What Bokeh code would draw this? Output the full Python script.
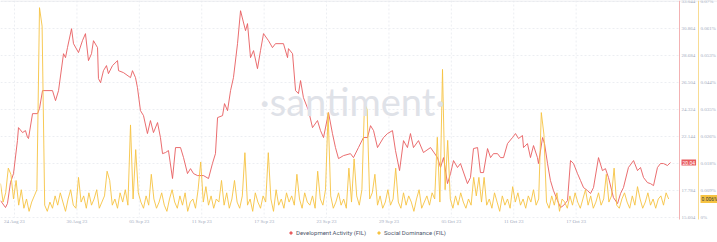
import pandas as pd
from bokeh.plotting import figure
from bokeh.models import Range1d, Legend, LegendItem, Label
from bokeh.embed import file_html
from bokeh.resources import INLINE

# ---------------- data ----------------
START = pd.Timestamp("2023-08-22 15:36")

x_tick_dates = ["2023-08-24", "2023-08-30", "2023-09-05", "2023-09-11", "2023-09-17",
                "2023-09-23", "2023-09-29", "2023-10-05", "2023-10-11", "2023-10-17"]

# Development Activity (FIL): days since START, value
dev_days = [0.00, 0.48, 0.67, 0.96, 1.25, 1.63, 1.73, 2.12, 2.40, 2.60, 2.69, 3.08, 3.56, 3.75,
            4.04, 5.00, 5.29, 5.58, 6.06, 6.25, 6.44, 6.83, 7.02, 7.50, 7.88, 8.17, 8.46, 8.75,
            8.94, 9.33, 9.42, 9.62, 9.90, 10.19, 10.38, 10.77, 11.25, 11.35, 11.83, 12.50, 12.69,
            12.98, 13.17, 13.46, 13.75, 14.13, 14.42, 14.71, 15.10, 15.38, 15.58, 15.87, 16.15,
            16.54, 16.83, 17.31, 17.60, 17.98, 18.27, 18.56, 18.94, 19.52, 20.00, 20.38, 20.67,
            20.87, 21.35, 21.54, 21.83, 22.12, 22.40, 22.79, 23.08, 23.56, 23.75, 24.04, 24.33,
            24.71, 25.00, 25.29, 25.77, 26.15, 26.44, 27.21, 27.60, 27.69, 28.08, 28.37, 28.65,
            28.85, 29.13, 29.62, 30.00, 30.48, 30.77, 31.06, 31.54, 31.92, 32.21, 32.50, 32.98,
            33.65, 33.94, 34.42, 34.90, 35.29, 35.58, 35.87, 36.25, 36.83, 37.21, 37.69, 37.98,
            38.37, 38.75, 39.13, 39.42, 39.71, 40.19, 40.67, 41.35, 42.02, 42.31, 42.60, 42.98,
            43.27, 43.56, 43.94, 44.23, 44.90, 45.19, 45.48, 45.87, 46.15, 46.44, 46.83, 47.12,
            47.40, 47.79, 48.08, 48.37, 48.75, 49.23, 49.52, 49.81, 50.19, 50.29, 50.67, 50.96,
            51.25, 51.63, 51.73, 52.12, 52.31, 52.60, 52.88, 53.17, 53.56, 53.85, 54.13, 54.52,
            54.81, 55.10, 55.48, 55.77, 56.06, 56.44, 56.73, 57.02, 57.50, 57.88, 58.17, 58.46,
            58.94, 59.33, 59.62, 59.90, 60.38, 60.87, 61.25, 61.54, 61.83, 62.21, 62.50, 62.79,
            63.17, 63.46, 63.75, 64.13, 64.42]
dev_values = [16.97, 16.41, 16.73, 18.42, 19.15, 21.81, 22.86, 22.46, 22.62, 22.06, 21.98, 23.99,
              23.99, 24.40, 25.85, 25.85, 25.04, 25.85, 28.83, 28.51, 29.32, 30.85, 29.64, 28.92,
              29.88, 30.45, 28.27, 28.83, 29.88, 29.32, 26.82, 26.49, 27.46, 27.87, 27.22, 27.87,
              28.27, 27.46, 27.30, 26.90, 27.46, 26.90, 26.09, 24.23, 23.83, 22.38, 23.43, 22.46,
              23.27, 22.06, 20.76, 20.85, 21.01, 18.75, 21.25, 21.25, 20.44, 19.15, 19.55, 19.15,
              18.99, 18.99, 18.75, 19.96, 20.76, 23.67, 23.83, 24.80, 24.23, 25.85, 26.90, 29.64,
              32.30, 30.69, 31.26, 28.51, 29.08, 27.62, 29.08, 30.45, 29.88, 29.32, 29.64, 29.64,
              28.51, 29.24, 28.83, 25.85, 25.61, 26.66, 25.28, 24.23, 22.86, 23.43, 22.62, 22.06,
              24.07, 22.38, 21.25, 20.36, 20.60, 20.76, 20.44, 21.25, 22.06, 22.06, 23.02, 22.62,
              21.25, 22.06, 22.38, 22.62, 21.01, 19.39, 21.81, 21.25, 22.38, 21.25, 21.81, 20.85,
              21.25, 20.44, 19.64, 20.44, 18.34, 19.15, 20.20, 19.64, 19.96, 18.34, 18.83, 21.17,
              21.25, 19.23, 19.23, 21.17, 20.44, 20.76, 20.76, 20.44, 20.44, 21.57, 22.06, 22.38,
              21.98, 22.22, 21.25, 21.57, 20.44, 21.41, 20.44, 19.96, 22.06, 21.57, 19.96, 18.59,
              17.78, 16.97, 16.41, 16.57, 16.97, 20.20, 19.96, 19.15, 18.59, 18.02, 17.78, 17.54,
              18.02, 20.44, 19.39, 19.55, 18.83, 17.21, 16.73, 17.54, 18.02, 19.64, 20.20, 19.39,
              19.64, 18.83, 18.42, 18.34, 18.18, 19.64, 19.96, 19.96, 19.80, 20.04]

# Social Dominance (FIL), one value every 6 hours, in thousandths of a percent
soc_step_hours = 6
soc_milli_pct = [
    11, 5, 8, 16, 14, 6, 12, 4, 9, 3, 6, 2, 5, 7, 9, 68, 62, 4, 2, 5,
    3, 7, 4, 8, 5, 2, 6, 9, 4, 3, 13, 5, 7, 3, 8, 4, 6, 9, 3, 5,
    7, 15, 12, 4, 6, 3, 8, 5, 9, 4, 30, 6, 22, 8, 5, 3, 7, 4, 14, 6,
    3, 5, 8, 4, 2, 6, 9, 5, 3, 7, 4, 8, 2, 5, 6, 3, 9, 18, 5, 10,
    4, 7, 3, 6, 5, 12, 4, 8, 3, 6, 12, 5, 3, 7, 21, 4, 6, 2, 8, 5,
    3, 7, 5, 21, 6, 2, 9, 4, 6, 3, 8, 5, 7, 4, 14, 6, 3, 8, 5, 4,
    7, 3, 15, 6, 4, 9, 34, 7, 3, 5, 8, 4, 6, 3, 16, 5, 19, 7, 4, 9,
    37, 35, 6, 8, 14, 4, 7, 3, 5, 9, 4, 6, 16, 5, 3, 8, 4, 7, 5, 2,
    6, 9, 3, 5, 7, 4, 8, 6, 26, 5, 48, 9, 25, 6, 3, 7, 4, 8, 5, 3,
    6, 4, 13, 7, 13, 5, 13, 4, 6, 3, 8, 5, 2, 7, 4, 6, 3, 10, 5, 8,
    4, 6, 3, 7, 5, 9, 4, 6, 34, 27, 5, 3, 7, 4, 8, 2, 6, 5, 3, 7,
    4, 8, 5, 3, 6, 9, 4, 7, 3, 5, 8, 4, 6, 14, 5, 7, 16, 4, 3, 6,
    8, 5, 3, 7, 4, 10, 6, 3, 5, 8, 4, 6, 3, 6, 7, 4, 8, 6]

dev_ticks = [15.604, 17.784, 19.964, 22.144, 24.324, 26.504, 28.684, 30.864, 33.044]
dev_tick_labels = ["15.604", "17.784", "19.964", "22.144", "24.324", "26.504", "28.684",
                   "30.864", "33.044"]
soc_ticks = [0.0, 0.00875, 0.0175, 0.02625, 0.035, 0.04375, 0.0525, 0.06125, 0.07]
soc_tick_labels = ["0%", "0.009%", "0.018%", "0.026%", "0.035%", "0.044%", "0.053%",
                   "0.061%", "0.07%"]

# ---------------- layout constants (pixels) ----------------
W, H = 717, 242
PX_PER_DAY = 10.4
PLOT_BOTTOM = 217      # pixel row of the lowest tick
PLOT_RIGHT = 679       # red axis line
SOC_AXIS_X = 698       # yellow axis line

# ---------------- derived ----------------
dev_t = [START + pd.Timedelta(days=d) for d in dev_days]
soc_t = [START + pd.Timedelta(hours=i * soc_step_hours) for i in range(len(soc_milli_pct))]
soc_pct = [v / 1000 for v in soc_milli_pct]
tick_t = [pd.Timestamp(d) for d in x_tick_dates]
tick_text = [t.strftime("%d %b %y") for t in tick_t]

x_end = START + pd.Timedelta(days=W / PX_PER_DAY)
plot_end = START + pd.Timedelta(days=PLOT_RIGHT / PX_PER_DAY)

dev_per_px = (dev_ticks[-1] - dev_ticks[0]) / (PLOT_BOTTOM - 1)
soc_per_px = (soc_ticks[-1] - soc_ticks[0]) / (PLOT_BOTTOM - 1)
dev_range = Range1d(dev_ticks[0] - (H - PLOT_BOTTOM) * dev_per_px,
                    dev_ticks[0] + PLOT_BOTTOM * dev_per_px)
soc_range = Range1d(soc_ticks[0] - (H - PLOT_BOTTOM) * soc_per_px,
                    soc_ticks[0] + PLOT_BOTTOM * soc_per_px)

RED = "#e85d5f"
YEL = "#f6c342"
LABEL_C = "#a3abbd"
GRID_C = "#eceef2"
FONT = "Roboto"

p = figure(width=W, height=H, x_axis_type="datetime",
           x_range=Range1d(START, x_end), y_range=dev_range,
           x_axis_location=None, y_axis_location=None,
           output_backend="svg", toolbar_location=None,
           min_border=0, background_fill_color="white", border_fill_color="white",
           outline_line_color=None)
p.xgrid.visible = False
p.ygrid.visible = False
p.extra_y_ranges = {"soc": soc_range, "px": Range1d(H, 0)}
p.extra_x_ranges = {"px": Range1d(0, W)}

# grid lines
p.segment(x0=tick_t, x1=tick_t, y0=[0] * len(tick_t), y1=[PLOT_BOTTOM] * len(tick_t),
          y_range_name="px", line_color=GRID_C, line_dash="2 2", line_width=1)
p.segment(x0=[START] * len(dev_ticks), x1=[plot_end] * len(dev_ticks),
          y0=dev_ticks, y1=dev_ticks, line_color=GRID_C, line_dash="2 2", line_width=1)
p.segment(x0=[0], x1=[W], y0=[0.5], y1=[0.5], x_range_name="px", y_range_name="px",
          line_color="#e6e8ec")

# axis lines
p.segment(x0=[PLOT_RIGHT], x1=[PLOT_RIGHT], y0=[0], y1=[PLOT_BOTTOM + 2],
          x_range_name="px", y_range_name="px", line_color="#f3b2b3")
p.segment(x0=[SOC_AXIS_X], x1=[SOC_AXIS_X], y0=[0], y1=[PLOT_BOTTOM + 2],
          x_range_name="px", y_range_name="px", line_color="#f8dc94")

# watermark
p.add_layout(Label(x=352, y=100, x_range_name="px", y_range_name="px", text="·santiment·",
                   text_font="Lato", text_font_size="38px", text_color="#dfe2e8",
                   text_align="center", text_baseline="middle"))

# series
p.line(dev_t, dev_values, line_color=RED, line_width=1, line_alpha=0.9)
p.line(soc_t, soc_pct, line_color=YEL, line_width=1, line_alpha=0.9, y_range_name="soc")

# axis tick labels
p.text(x=tick_t, y=[PLOT_BOTTOM + 4] * len(tick_t), text=tick_text, y_range_name="px",
       text_font=FONT, text_font_size="5px", text_color=LABEL_C,
       text_align="center", text_baseline="middle")
p.text(x=[PLOT_RIGHT + 2] * len(dev_ticks), y=dev_ticks, text=dev_tick_labels,
       x_range_name="px", text_font=FONT, text_font_size="5px", text_color=LABEL_C,
       text_align="left", text_baseline="middle")
p.text(x=[SOC_AXIS_X + 2] * len(soc_ticks), y=soc_ticks, text=soc_tick_labels,
       x_range_name="px", y_range_name="soc", text_font=FONT, text_font_size="5px",
       text_color=LABEL_C, text_align="left", text_baseline="middle")

# last value markers
p.add_layout(Label(x=PLOT_RIGHT + 2, y=dev_values[-1], x_range_name="px",
                   text=f"{dev_values[-1]:.2f}", text_font=FONT, text_font_size="5px",
                   text_color="white", text_baseline="middle", text_align="left",
                   background_fill_color=RED, padding=1))
p.add_layout(Label(x=SOC_AXIS_X + 2, y=soc_pct[-1], x_range_name="px", y_range_name="soc",
                   text=f"{soc_pct[-1]:.3f}%", text_font=FONT, text_font_size="5px",
                   text_color="#3b3b3b", text_baseline="middle", text_align="left",
                   background_fill_color=YEL, padding=1))

# legend
r_leg1 = p.scatter(x=[START], y=[-1000], marker="square", size=5, color=RED)
r_leg2 = p.scatter(x=[START], y=[-1000], marker="square", size=5, color=YEL)
legend = Legend(items=[LegendItem(label="Development Activity (FIL)", renderers=[r_leg1]),
                       LegendItem(label="Social Dominance (FIL)", renderers=[r_leg2])],
                orientation="horizontal", location=(288, 6),
                label_text_font_size="6px", label_text_font=FONT, label_text_color="#4d566b",
                glyph_width=5, glyph_height=5, label_standoff=3, spacing=10,
                padding=0, margin=0, border_line_color=None, background_fill_alpha=0,
                label_height=6)
p.add_layout(legend, "center")

open("out.html", "w").write(file_html(p, INLINE))
